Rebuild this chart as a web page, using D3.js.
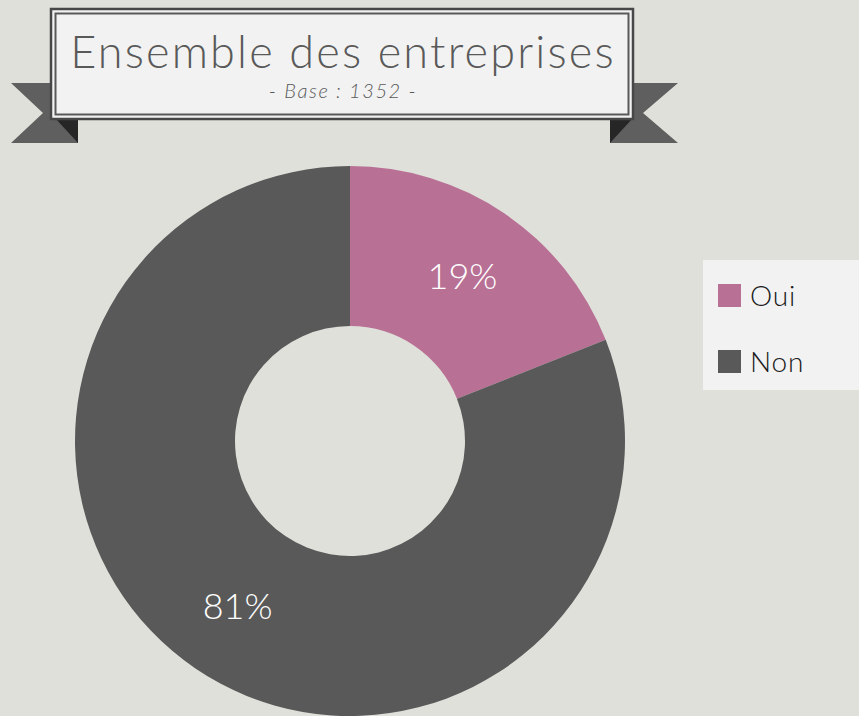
<!DOCTYPE html>
<html>
<head>
<meta charset="utf-8">
<script src="https://cdn.jsdelivr.net/npm/d3@7"></script>
<style>
	html, body { margin: 0; padding: 0; background: #dfe0da; overflow: hidden; }
	svg { display: block; }
	text { font-family: "Century Gothic", "URW Gothic", Lato, "DejaVu Sans", sans-serif; font-weight: 300; }
</style>
</head>
<body>
<script>
// Data
const categories = ['Oui', 'Non'];
const values = [19, 81];
const title = 'Ensemble des entreprises';
const subtitle = '- Base : 1352 -';

const width = 859;
const height = 716;

const colors = d3.scaleOrdinal()
	.domain(categories)
	.range(['#b87095', '#595959']);

const svg = d3.select('body')
	.append('svg')
	.attr('width', width)
	.attr('height', height);

// Background
svg.append('rect')
	.attr('width', width)
	.attr('height', height)
	.attr('fill', '#dfe0da');

// Ribbon banner
const banner = svg.append('g').attr('class', 'banner');

// tails
banner.append('polygon')
	.attr('points', '11,83 78,83 78,143 11,143 43,113')
	.attr('fill', '#5f5f5f');
banner.append('polygon')
	.attr('points', '678,83 610,83 610,143 678,143 643,113')
	.attr('fill', '#5f5f5f');

// folds
banner.append('polygon')
	.attr('points', '55,118 78,118 78,143')
	.attr('fill', '#262626');
banner.append('polygon')
	.attr('points', '633,118 610,118 610,143')
	.attr('fill', '#262626');

// box
banner.append('rect')
	.attr('x', 51)
	.attr('y', 9)
	.attr('width', 582)
	.attr('height', 110)
	.attr('fill', '#f2f2f2')
	.attr('stroke', '#474747')
	.attr('stroke-width', 2.5);
banner.append('rect')
	.attr('x', 55.5)
	.attr('y', 13.5)
	.attr('width', 573)
	.attr('height', 101)
	.attr('fill', 'none')
	.attr('stroke', '#595959')
	.attr('stroke-width', 2);

banner.append('text')
	.attr('x', 343)
	.attr('y', 68)
	.attr('text-anchor', 'middle')
	.attr('font-size', 45)
	.attr('letter-spacing', 2.2)
	.attr('fill', '#595959')
	.text(title);

banner.append('text')
	.attr('x', 343)
	.attr('y', 98)
	.attr('text-anchor', 'middle')
	.attr('font-size', 20)
	.attr('letter-spacing', 1.6)
	.attr('font-style', 'italic')
	.attr('fill', '#595959')
	.text(subtitle);

// Doughnut
const cx = 350, cy = 441;
const outerR = 275, innerR = 115;

const pie = d3.pie()
	.value(d => d.value)
	.sort(null);

const arcs = pie(categories.map((c, i) => ({ name: c, value: values[i] })));

const arc = d3.arc()
	.innerRadius(innerR)
	.outerRadius(outerR);

const labelArc = d3.arc()
	.innerRadius(200)
	.outerRadius(200);

const g = svg.append('g')
	.attr('transform', `translate(${cx},${cy})`);

g.selectAll('path')
	.data(arcs)
	.join('path')
	.attr('d', arc)
	.attr('fill', d => colors(d.data.name));

g.selectAll('text')
	.data(arcs)
	.join('text')
	.attr('transform', d => `translate(${labelArc.centroid(d)})`)
	.attr('dy', '0.36em')
	.attr('text-anchor', 'middle')
	.attr('font-size', 36)
	.attr('fill', '#ffffff')
	.text(d => `${d.data.value}%`);

// Legend
const legend = svg.append('g').attr('class', 'legend');

legend.append('rect')
	.attr('x', 703)
	.attr('y', 260)
	.attr('width', 160)
	.attr('height', 130)
	.attr('fill', '#f2f2f2');

const item = legend.selectAll('g.item')
	.data(categories)
	.join('g')
	.attr('class', 'item')
	.attr('transform', (d, i) => `translate(718,${284 + i * 66})`);

item.append('rect')
	.attr('width', 23)
	.attr('height', 23)
	.attr('fill', d => colors(d));

item.append('text')
	.attr('x', 32)
	.attr('y', 22)
	.attr('font-size', 28)
	.attr('letter-spacing', 0.8)
	.attr('fill', '#1a1a1a')
	.text(d => d);
</script>
</body>
</html>
